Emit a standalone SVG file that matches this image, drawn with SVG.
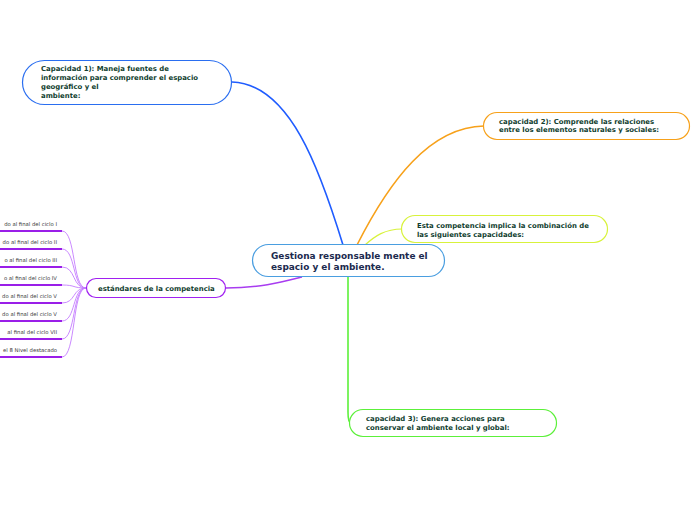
<svg xmlns="http://www.w3.org/2000/svg" width="696" height="520" viewBox="0 0 696 520">
<style>
.t{font-family:"DejaVu Sans",Verdana,sans-serif;font-weight:bold;fill:#0f3d2e;font-size:6.9px}
.m{font-family:"DejaVu Sans",Verdana,sans-serif;font-weight:bold;fill:#1b2a4e;font-size:8.95px}
.l{font-family:"DejaVu Sans",Verdana,sans-serif;fill:#3a3a3a;font-size:5.3px;text-anchor:end}
.c{fill:none}
.box{fill:#fff;stroke-width:1.2}
.ul{stroke:#9a1ee8;stroke-width:1.8}
.lc{fill:none;stroke:#c47cff;stroke-width:0.9}
</style>
<rect width="696" height="520" fill="#fff"/>
<g id="connectors">
<path class="c" d="M232,82 C290,84 320,170 343,245" stroke="#1f5cff" stroke-width="1.6"/>
<path class="c" d="M357,245 C390,180 430,127 484,126" stroke="#f7a11a" stroke-width="1.6"/>
<path class="c" d="M365,245 C375,236 385,229 402,229" stroke="#d8f23c" stroke-width="1.2"/>
<path class="c" d="M348,277 L348,412 Q348,423 351,423" stroke="#5cf03a" stroke-width="1.6"/>
<path class="c" d="M226,288 C260,288 282,282 302,277" stroke="#a83cf0" stroke-width="1.4"/>
<path class="lc" d="M62,231 C76,231 72,288 86,288"/>
<path class="lc" d="M62,249 C76,249 72,288 86,288"/>
<path class="lc" d="M62,267 C76,267 72,288 86,288"/>
<path class="lc" d="M62,285 C76,285 72,288 86,288"/>
<path class="lc" d="M62,303 C76,303 72,288 86,288"/>
<path class="lc" d="M62,321 C76,321 72,288 86,288"/>
<path class="lc" d="M62,339 C76,339 72,288 86,288"/>
<path class="lc" d="M62,357 C76,357 72,288 86,288"/>
</g>
<g id="central">
<rect class="box" x="252.5" y="244.5" width="192" height="32" rx="16" stroke="#4a9ee0"/>
<text class="m" x="271" y="259">Gestiona responsable mente el</text>
<text class="m" x="271" y="270">espacio y el ambiente.</text>
</g>
<g id="cap1">
<rect class="box" x="22.5" y="60.5" width="209" height="44" rx="22" stroke="#2a6ef0"/>
<text class="t" x="41" y="71">Capacidad 1): Maneja fuentes de</text>
<text class="t" x="41" y="80">información para comprender el espacio</text>
<text class="t" x="41" y="89">geográfico y el</text>
<text class="t" x="41" y="98">ambiente:</text>
</g>
<g id="cap2">
<rect class="box" x="483.5" y="112.5" width="206" height="27" rx="13.5" stroke="#f7a11a"/>
<text class="t" x="499" y="123.5">capacidad 2): Comprende las relaciones</text>
<text class="t" x="499" y="132">entre los elementos naturales y sociales:</text>
</g>
<g id="esta">
<rect class="box" x="401.5" y="215.5" width="206" height="27" rx="13.5" stroke="#d8f23c"/>
<text class="t" x="417" y="228">Esta competencia implica la combinación de</text>
<text class="t" x="417" y="236.5">las siguientes capacidades:</text>
</g>
<g id="cap3">
<rect class="box" x="349.5" y="409.5" width="207" height="27" rx="13.5" stroke="#5cf03a"/>
<text class="t" x="366" y="420.5">capacidad 3): Genera acciones para</text>
<text class="t" x="366" y="430">conservar el ambiente local y global:</text>
</g>
<g id="estandares">
<rect class="box" x="86.5" y="278.5" width="139" height="19" rx="9.5" stroke="#a020f0"/>
<text class="t" x="98" y="290.5">estándares de la competencia</text>
</g>
<g id="leaf1"><text class="l" x="57" y="226">do al final del ciclo I</text><line class="ul" x1="0" y1="231" x2="62" y2="231"/></g>
<g id="leaf2"><text class="l" x="57" y="244">do al final del ciclo II</text><line class="ul" x1="0" y1="249" x2="62" y2="249"/></g>
<g id="leaf3"><text class="l" x="57" y="262">o al final del ciclo III</text><line class="ul" x1="0" y1="267" x2="62" y2="267"/></g>
<g id="leaf4"><text class="l" x="57" y="280">o al final del ciclo IV</text><line class="ul" x1="0" y1="285" x2="62" y2="285"/></g>
<g id="leaf5"><text class="l" x="57" y="298">do al final del ciclo V</text><line class="ul" x1="0" y1="303" x2="62" y2="303"/></g>
<g id="leaf6"><text class="l" x="57" y="316">do al final del ciclo V</text><line class="ul" x1="0" y1="321" x2="62" y2="321"/></g>
<g id="leaf7"><text class="l" x="57" y="334"> al final del ciclo VII</text><line class="ul" x1="0" y1="339" x2="62" y2="339"/></g>
<g id="leaf8"><text class="l" x="57" y="352">el 8 Nivel destacado</text><line class="ul" x1="0" y1="357" x2="62" y2="357"/></g>
</svg>
